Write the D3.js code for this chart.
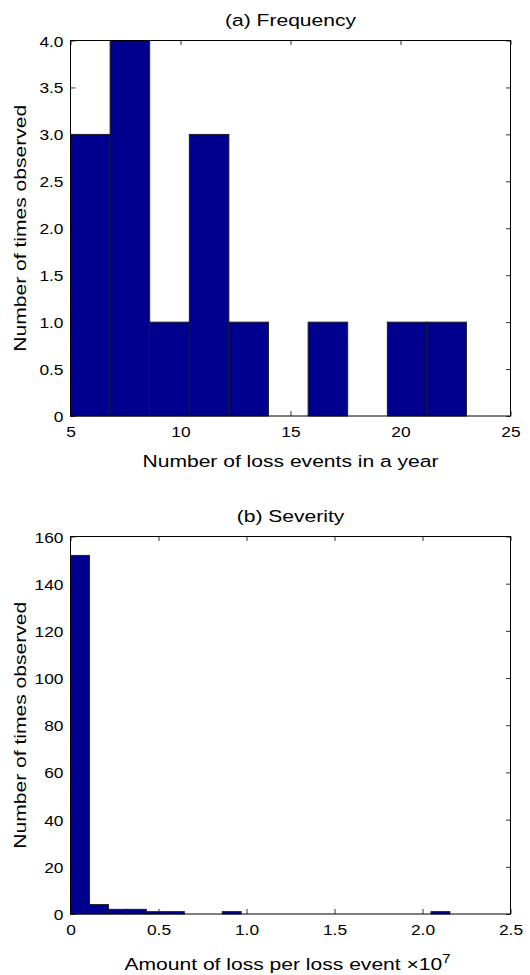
<!DOCTYPE html>
<html>
<head>
<meta charset="utf-8">
<script src="https://cdn.jsdelivr.net/npm/d3@7"></script>
<style>
  html, body { margin: 0; padding: 0; background: #fff; }
  svg { display: block; }
  text { font-family: "Liberation Sans", Arial, Helvetica, sans-serif; fill: #000; }
</style>
</head>
<body>
<div id="chart"></div>
<script>
/*jslint browser: true*/

// (a) frequency histogram: bins of 1.8 events starting at 5
var freqBinStarts = [5, 6.8, 8.6, 10.4, 12.2, 14, 15.8, 17.6, 19.4, 21.2];
var freqBinWidth = 1.8;
var freqCounts = [3, 4, 1, 3, 1, 0, 1, 0, 1, 1];
var freqXTicks = [5, 10, 15, 20, 25];
var freqYTicks = [0, 0.5, 1, 1.5, 2, 2.5, 3, 3.5, 4];

// (b) severity histogram, amounts in units of 1e7
var sevBinStarts = [0, 0.108, 0.216, 0.323, 0.431, 0.539, 0.647, 0.755, 0.862, 0.970,
                    1.078, 1.186, 1.294, 1.401, 1.509, 1.617, 1.725, 1.833, 1.940, 2.048];
var sevBinWidth = 0.1078;
var sevCounts = [152, 4, 2, 2, 1, 1, 0, 0, 1, 0, 0, 0, 0, 0, 0, 0, 0, 0, 0, 1];
var sevXTicks = [0, 0.5, 1, 1.5, 2, 2.5];
var sevYTicks = [0, 20, 40, 60, 80, 100, 120, 140, 160];

(function (d3) {
    'use strict';

    var W = 530, H = 975,
        barFill = '#00008f',
        labelScale = 'scale(1.24,1)',
        tickScale = 'scale(1.12,1)';

    var svg = d3.select('#chart').append('svg')
        .attr('width', W)
        .attr('height', H);

    function fmt(d) {
        return d === 0 ? '0' : d3.format('.1f')(d);
    }

    function drawPanel(p) {
        var x = d3.scaleLinear().domain(p.xDomain).range([p.left, p.right]),
            y = d3.scaleLinear().domain(p.yDomain).range([p.bottom, p.top]),
            g = svg.append('g');

        // tick marks first, bars cover them
        g.append('g')
            .attr('transform', 'translate(0,' + p.bottom + ')')
            .call(d3.axisBottom(x).tickValues(p.xTicks).tickSizeInner(-5).tickSizeOuter(0).tickFormat(p.xFormat))
            .call(function (a) {
                a.select('.domain').remove();
                a.selectAll('text')
                    .attr('y', 0).attr('dy', null)
                    .attr('transform', 'translate(0,21) ' + tickScale)
                    .style('font-size', '15.5px');
            });
        g.append('g')
            .attr('transform', 'translate(0,' + p.top + ')')
            .call(d3.axisTop(x).tickValues(p.xTicks).tickSizeInner(-4.5).tickSizeOuter(0).tickFormat(''))
            .call(function (a) { a.select('.domain').remove(); });
        g.append('g')
            .attr('transform', 'translate(' + p.left + ',0)')
            .call(d3.axisLeft(y).tickValues(p.yTicks).tickSizeInner(-5).tickSizeOuter(0).tickFormat(p.yFormat))
            .call(function (a) {
                a.select('.domain').remove();
                a.selectAll('text')
                    .attr('x', 0).attr('dy', null)
                    .attr('transform', 'translate(-7,5.5) ' + tickScale)
                    .style('font-size', '15.5px');
            });
        g.append('g')
            .attr('transform', 'translate(' + p.right + ',0)')
            .call(d3.axisRight(y).tickValues(p.yTicks).tickSizeInner(-4.5).tickSizeOuter(0).tickFormat(''))
            .call(function (a) { a.select('.domain').remove(); });
        g.selectAll('.tick line').attr('stroke', '#000').attr('stroke-width', 0.8);
        g.selectAll('.tick text').attr('fill', '#000');

        g.append('g').selectAll('rect')
            .data(p.counts)
            .join('rect')
            .attr('x', function (d, i) { return x(p.starts[i]); })
            .attr('width', function (d, i) { return x(p.starts[i] + p.binWidth) - x(p.starts[i]); })
            .attr('y', function (d) { return y(d); })
            .attr('height', function (d) { return y(0) - y(d); })
            .attr('fill', barFill)
            .attr('stroke', '#1a1a1a')
            .attr('stroke-width', 0.9);

        g.append('rect')
            .attr('x', p.left).attr('y', p.top)
            .attr('width', p.right - p.left).attr('height', p.bottom - p.top)
            .attr('fill', 'none')
            .attr('stroke', '#000')
            .attr('stroke-width', 1);

        var cx = (p.left + p.right) / 2;
        g.append('text')
            .attr('transform', 'translate(' + cx + ',' + p.titleY + ') ' + labelScale)
            .attr('text-anchor', 'middle')
            .style('font-size', '17px')
            .text(p.title);

        var xl = g.append('text')
            .attr('transform', 'translate(' + (cx + p.xLabelShift) + ',' + p.xLabelY + ') ' + labelScale)
            .attr('text-anchor', 'middle')
            .style('font-size', '17px')
            .text(p.xLabel);
        if (p.xExp) {
            xl.append('tspan')
                .attr('dy', -7)
                .style('font-size', '12px')
                .text(p.xExp);
        }

        g.append('text')
            .attr('transform', 'translate(26,' + ((p.top + p.bottom) / 2) + ') rotate(-90) ' + labelScale)
            .attr('text-anchor', 'middle')
            .style('font-size', '17px')
            .text('Number of times observed');
    }

    drawPanel({
        left: 70.5, right: 510.5, top: 40.5, bottom: 416,
        xDomain: [5, 25], yDomain: [0, 4],
        xTicks: freqXTicks, yTicks: freqYTicks,
        xFormat: d3.format('d'), yFormat: fmt,
        starts: freqBinStarts, binWidth: freqBinWidth, counts: freqCounts,
        title: '(a) Frequency', titleY: 26,
        xLabel: 'Number of loss events in a year', xLabelY: 466.5, xLabelShift: 0
    });

    drawPanel({
        left: 70.5, right: 510.5, top: 536.5, bottom: 914,
        xDomain: [0, 2.5], yDomain: [0, 160],
        xTicks: sevXTicks, yTicks: sevYTicks,
        xFormat: fmt, yFormat: d3.format('d'),
        starts: sevBinStarts, binWidth: sevBinWidth, counts: sevCounts,
        title: '(b) Severity', titleY: 521.5,
        xLabel: 'Amount of loss per loss event \u00d710', xExp: '7', xLabelY: 970, xLabelShift: -3
    });

}(window.d3));
</script>
</body>
</html>
